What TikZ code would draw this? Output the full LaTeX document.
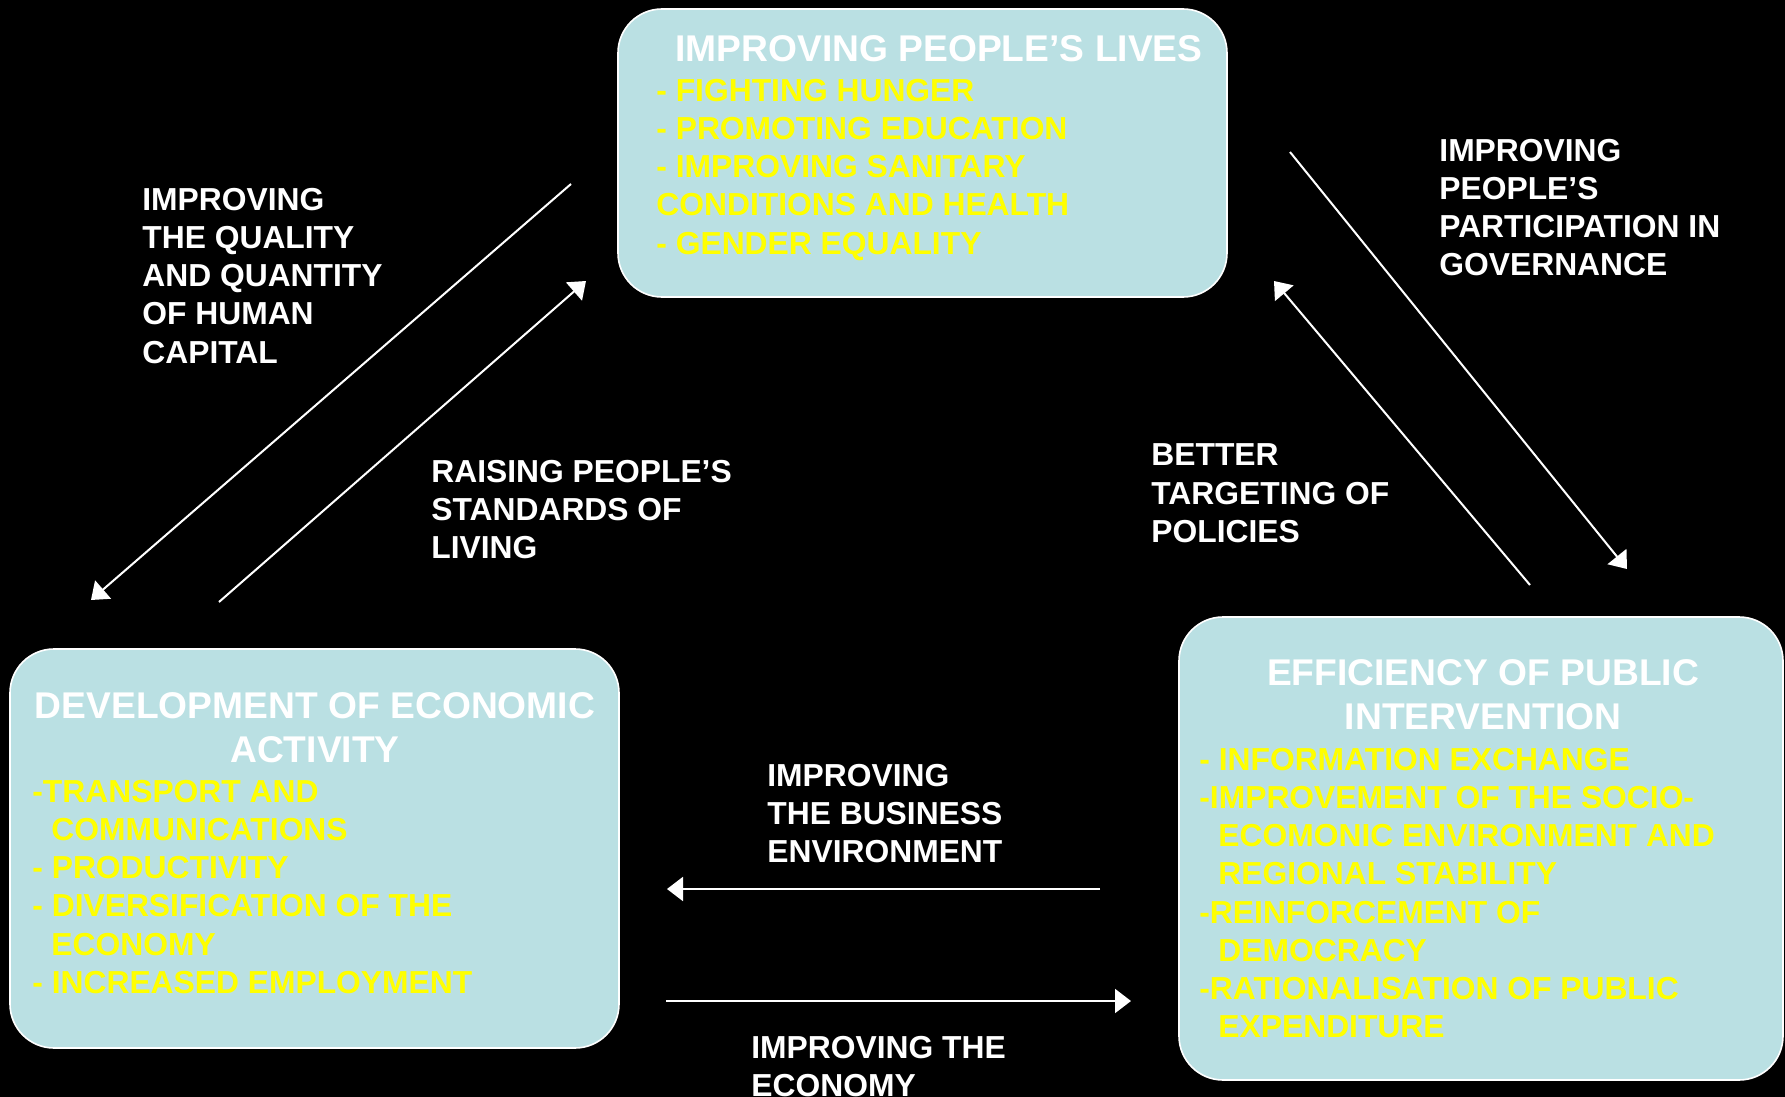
\documentclass[tikz,border=0pt]{standalone}
\usepackage{fontspec}
\setmainfont{Liberation Sans}
\usetikzlibrary{arrows.meta}
\definecolor{boxblue}{RGB}{186,224,227}
\definecolor{ylw}{RGB}{255,255,0}
\begin{document}
\begin{tikzpicture}[x=0.5pt,y=-0.5pt,
  box/.style={draw=white, line width=0.8pt, fill=boxblue, rounded corners=22pt, inner sep=0pt},
  ttl/.style={text=white, font=\bfseries\fontsize{18.6}{22.2}\selectfont, inner sep=0pt, align=center},
  itm/.style={text=ylw, font=\bfseries\fontsize{15.9}{19.1}\selectfont, inner sep=0pt, align=left, anchor=north west},
  lbl/.style={text=white, font=\bfseries\fontsize{15.9}{19.1}\selectfont, inner sep=0pt, align=left, anchor=north west},
  link/.style={draw=white, line width=1pt, -{Triangle[length=8pt,width=12pt]}}
]
\fill[black] (0,0) rectangle (1785,1097);
\useasboundingbox (0,0) rectangle (1785,1097);

% boxes
\node[box, minimum width=304.5pt, minimum height=144pt] (lives) at (922.5,153) {};
\node[box, minimum width=304.5pt, minimum height=199.5pt] (econ) at (314.5,848.5) {};
\node[box, minimum width=302pt, minimum height=231.5pt] (eff) at (1481,848.5) {};

% box texts
\node[ttl, anchor=north west] (livesT) at (675,34.7) {IMPROVING PEOPLE’S LIVES};
\node[itm] (livesI) at (656,78.6) {- FIGHTING HUNGER\\- PROMOTING EDUCATION\\- IMPROVING SANITARY\\CONDITIONS AND HEALTH\\- GENDER EQUALITY};

\node[ttl, anchor=north] (econT) at (315,691.7) {DEVELOPMENT OF ECONOMIC\\ACTIVITY};
\node[itm] (econI) at (32,779.6) {-TRANSPORT AND\\\hspace*{0.6em}COMMUNICATIONS\\- PRODUCTIVITY\\- DIVERSIFICATION OF THE\\\hspace*{0.6em}ECONOMY\\- INCREASED EMPLOYMENT};

\node[ttl, anchor=north] (effT) at (1483,658.7) {EFFICIENCY OF PUBLIC\\INTERVENTION};
\node[itm] (effI) at (1199,747.6) {- INFORMATION EXCHANGE\\-IMPROVEMENT OF THE SOCIO-\\\hspace*{0.6em}ECOMONIC ENVIRONMENT AND\\\hspace*{0.6em}REGIONAL STABILITY\\-REINFORCEMENT OF\\\hspace*{0.6em}DEMOCRACY\\-RATIONALISATION OF PUBLIC\\\hspace*{0.6em}EXPENDITURE};

% labels
\node[lbl] (l1) at (142,187.6) {IMPROVING\\THE QUALITY\\AND QUANTITY\\OF HUMAN\\CAPITAL};
\node[lbl] (l2) at (431,459.6) {RAISING PEOPLE’S\\STANDARDS OF\\LIVING};
\node[lbl] (l3) at (1439,138.6) {IMPROVING\\PEOPLE’S\\PARTICIPATION IN\\GOVERNANCE};
\node[lbl] (l4) at (1151,443.6) {BETTER\\TARGETING OF\\POLICIES};
\node[lbl] (l5) at (767,763.6) {IMPROVING\\THE BUSINESS\\ENVIRONMENT};
\node[lbl] (l6) at (751,1035.6) {IMPROVING THE\\ECONOMY};

% arrow end points
\coordinate (a1s) at (571,184);  \coordinate (a1e) at (91,600);
\coordinate (a2s) at (219,602);  \coordinate (a2e) at (586,281);
\coordinate (a3s) at (1290,152); \coordinate (a3e) at (1627,569);
\coordinate (a4s) at (1530,585); \coordinate (a4e) at (1274,281);
\coordinate (a5s) at (1100,889); \coordinate (a5e) at (667,889);
\coordinate (a6s) at (666,1001); \coordinate (a6e) at (1131,1001);

\draw[link] (a1s) -- (a1e);
\draw[link] (a2s) -- (a2e);
\draw[link] (a3s) -- (a3e);
\draw[link] (a4s) -- (a4e);
\draw[link] (a5s) -- (a5e);
\draw[link] (a6s) -- (a6e);
\end{tikzpicture}
\end{document}
